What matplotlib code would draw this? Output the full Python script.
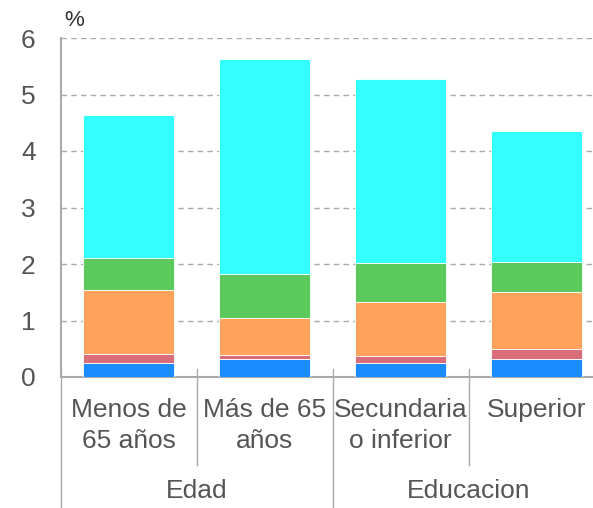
import matplotlib.pyplot as plt
import matplotlib.transforms as mtransforms

categories = ["Menos de\n65 años", "Más de 65\naños", "Secundaria\no inferior", "Superior"]
groups = ["Edad", "Educacion"]

# stacked segments, bottom to top (%)
blue = [0.25, 0.31, 0.25, 0.31]
red = [0.16, 0.08, 0.12, 0.18]
orange = [1.13, 0.66, 0.96, 1.01]
green = [0.57, 0.78, 0.69, 0.54]
cyan = [2.53, 3.80, 3.25, 2.31]

series = [blue, red, orange, green, cyan]
colors = ["#1a8cff", "#d96d7a", "#ffa35c", "#5cc95c", "#33ffff"]

plt.rcParams['font.family'] = ['Liberation Sans', 'DejaVu Sans']
text_color = "#555555"
line_color = "#aaaaaa"

fig = plt.figure(figsize=(5.93, 5.08), dpi=100)
ax = fig.add_axes([60.5 / 593, 131 / 508, 544 / 593, 339 / 508])

x = list(range(len(categories)))
bottom = [0.0] * len(categories)
for vals, col in zip(series, colors):
    ax.bar(x, vals, bottom=bottom, width=0.67, color=col, edgecolor="white", linewidth=0.6, zorder=3)
    bottom = [b + v for b, v in zip(bottom, vals)]

ax.set_xlim(-0.5, 3.5)
ax.set_ylim(0, 6)
ax.set_yticks(range(0, 7))
ax.yaxis.grid(True, linestyle=(0, (4, 3)), color="#aaaaaa", linewidth=1, zorder=0)
ax.set_axisbelow(True)

for s in ["top", "right"]:
    ax.spines[s].set_visible(False)
for s in ["left", "bottom"]:
    ax.spines[s].set_color(line_color)
    ax.spines[s].set_linewidth(1.5)

ax.tick_params(axis="y", length=0, pad=18, labelsize=19, labelcolor=text_color)
ax.set_xticks([])

trans = mtransforms.blended_transform_factory(ax.transData, fig.transFigure)
for i, lab in enumerate(categories):
    ax.text(i, 0.216, lab, transform=trans, ha="center", va="top",
            fontsize=19, color=text_color, linespacing=1.35)

for i, g in enumerate(groups):
    ax.text(2 * i + 0.5, 0.033, g, transform=trans, ha="center", va="center",
            fontsize=19, color=text_color)

for xb in [0.5, 2.5]:
    ax.plot([xb, xb], [0.274, 0.085], transform=trans, color=line_color, lw=1, clip_on=False)
for xb in [-0.5, 1.5]:
    ax.plot([xb, xb], [0.274, 0.0], transform=trans, color=line_color, lw=1, clip_on=False)

fig.text(64 / 593, 1 - 20 / 508, "%", fontsize=16, color="#333333", va="center", ha="left")

fig.savefig("out.png", dpi=100)
